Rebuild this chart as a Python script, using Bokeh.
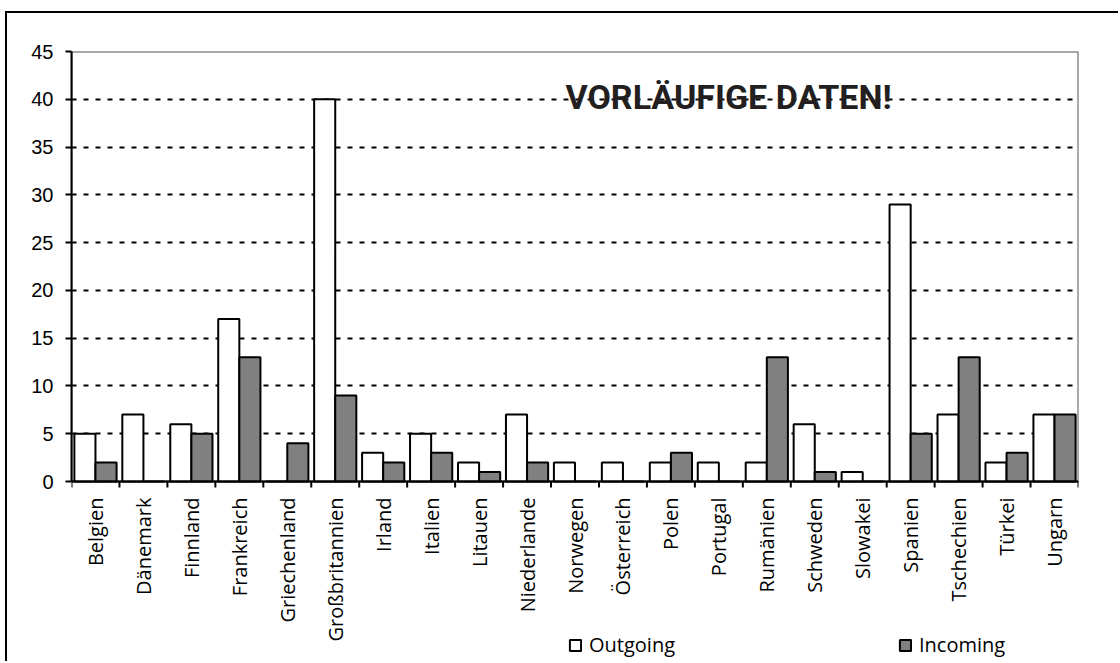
import math
from bokeh.plotting import figure
from bokeh.models import (Range1d, LinearAxis, FixedTicker, Legend, LegendItem,
                          Label, ColumnDataSource, Grid, Span)
from bokeh.core.properties import value
from bokeh.embed import file_html
from bokeh.resources import INLINE

countries = ["Belgien", "Dänemark", "Finnland", "Frankreich", "Griechenland",
             "Großbritannien", "Irland", "Italien", "Litauen", "Niederlande",
             "Norwegen", "Österreich", "Polen", "Portugal", "Rumänien",
             "Schweden", "Slowakei", "Spanien", "Tschechien", "Türkei", "Ungarn"]
outgoing = [5, 7, 6, 17, 0, 40, 3, 5, 2, 7, 2, 2, 2, 2, 2, 6, 1, 29, 7, 2, 7]
incoming = [2, 0, 5, 13, 4, 9, 2, 3, 1, 2, 0, 0, 3, 0, 13, 1, 0, 5, 13, 3, 7]
y_ticks = [0, 5, 10, 15, 20, 25, 30, 35, 40, 45]
series_names = ["Outgoing", "Incoming"]
note_text = "VORLÄUFIGE DATEN!"

# layout constants (pixels)
PLOT_H = 430          # height of the 0..45 value area
BELOW_H = 182         # room under the zero line for labels and legend
UNIT = y_ticks[-1] / PLOT_H   # data units per pixel

n = len(countries)
idx = list(range(n))
centers = [i + 0.5 for i in idx]
bounds = list(range(n + 1))

src = ColumnDataSource(dict(
    out_x=[i + 0.28 for i in idx],
    in_x=[i + 0.72 for i in idx],
    outgoing=outgoing,
    incoming=incoming,
))

p = figure(width=1113, height=650,
           x_range=Range1d(0, n),
           y_range=Range1d(-BELOW_H * UNIT, y_ticks[-1]),
           output_backend="svg", toolbar_location=None,
           x_axis_type=None, y_axis_type=None,
           min_border_left=64, min_border_top=38, min_border_right=42,
           min_border_bottom=0,
           outline_line_color=None,
           background_fill_color="white", border_fill_color="white",
           styles={"margin-left": "5px", "margin-top": "11px",
                   "border-left": "2px solid black",
                   "border-top": "2px solid black"})

# horizontal dashed grid
grid = Grid(dimension=1, ticker=FixedTicker(ticks=y_ticks[1:]),
            grid_line_color="black", grid_line_dash="5 7", grid_line_width=2)
p.add_layout(grid)

# plot-area border (top / right)
p.quad(left=[0], right=[n], bottom=[0], top=[y_ticks[-1]],
       fill_color=None, line_color="#555555", line_width=2)

r_out = p.vbar(x="out_x", top="outgoing", width=0.44, source=src,
               fill_color="white", line_color="black", line_width=2)
r_in = p.vbar(x="in_x", top="incoming", width=0.44, source=src,
              fill_color="#808080", line_color="black", line_width=2)

# y axis (only spanning 0..45)
yaxis = LinearAxis(ticker=FixedTicker(ticks=y_ticks), bounds=(0, y_ticks[-1]),
                   axis_line_color="black", axis_line_width=2,
                   major_tick_line_color="black", major_tick_line_width=2,
                   major_tick_out=6, major_tick_in=0,
                   minor_tick_line_color=None,
                   major_label_text_font="Liberation Sans",
                   major_label_text_font_size="20px",
                   major_label_text_color="black",
                   major_label_standoff=12)
p.add_layout(yaxis, "left")

# category axis drawn at zero: line, boundary ticks, rotated labels
p.add_layout(Span(location=0, dimension="width", line_color="black", line_width=2))
p.segment(x0=bounds, y0=[0] * len(bounds), x1=bounds, y1=[-6 * UNIT] * len(bounds),
          line_color="black", line_width=2)
p.text(x=centers, y=[-16 * UNIT] * n, text=countries, angle=math.pi / 2,
       text_align="right", text_baseline="middle",
       text_font=value("Open Sans"), text_font_size="20px", text_color="black")

note = Label(x=10.3, y=40.2, text=note_text,
             text_font="Roboto", text_font_style="bold",
             text_font_size="34px", text_color="#231f20",
             text_baseline="alphabetic", text_align="left")
p.add_layout(note)

legend = Legend(items=[LegendItem(label=series_names[0], renderers=[r_out]),
                       LegendItem(label=series_names[1], renderers=[r_in])],
                orientation="horizontal", location=(497, 5),
                spacing=223, glyph_width=14, glyph_height=14, label_standoff=7,
                padding=0, margin=0, border_line_color=None,
                background_fill_alpha=0,
                label_text_font="Open Sans", label_text_font_size="20px",
                label_text_color="black")
p.add_layout(legend)

open("out.html", "w").write(file_html(p, INLINE))
